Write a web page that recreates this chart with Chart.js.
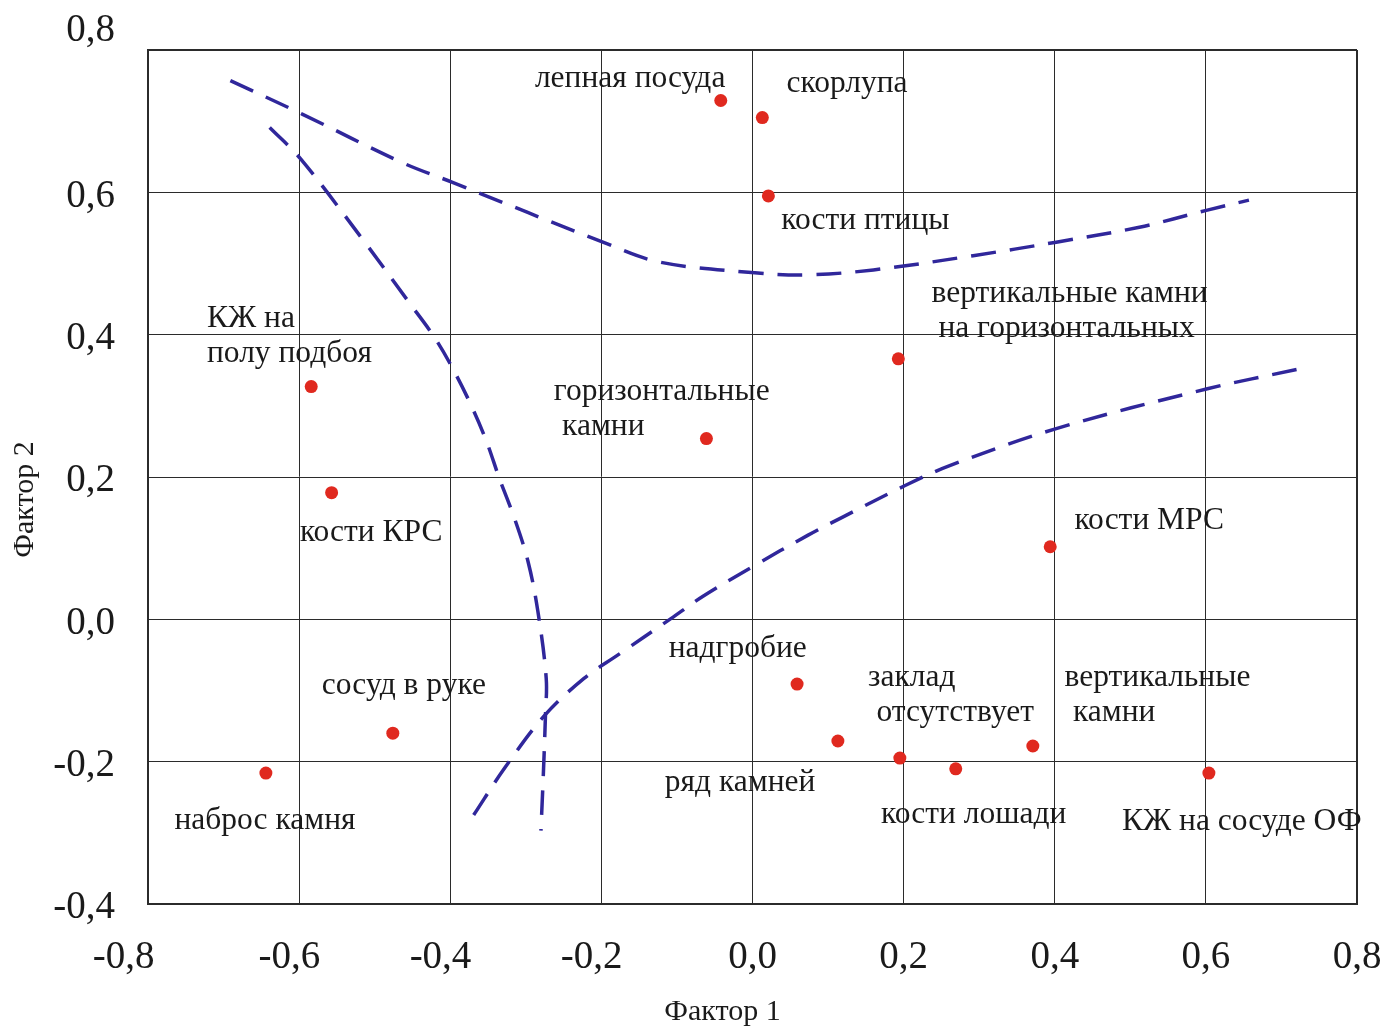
<!DOCTYPE html>
<html lang="ru">
<head>
  <meta charset="UTF-8">
  <meta name="viewport" content="width=device-width, initial-scale=1.0">
  <title>Фактор 1 / Фактор 2</title>
  <script src="https://cdn.jsdelivr.net/npm/chart.js"></script>
  <style>
    body { margin: 0; background: #ffffff; }
  </style>
</head>
<body>
  <canvas id="factorChartCanvas" width="1392" height="1032"></canvas>
  <script>
    const xTickLabels = ['-0,8', '-0,6', '-0,4', '-0,2', '0,0', '0,2', '0,4', '0,6', '0,8'];
    const yTickLabels = ['-0,4', '-0,2', '0,0', '0,2', '0,4', '0,6', '0,8'];

    // точки: Фактор 1 / Фактор 2
    const factor1 = [-0.042, 0.013, 0.021, 0.193, -0.061, -0.584, -0.557, 0.394, 0.059, -0.476, -0.644, 0.113, 0.195, 0.269, 0.371, 0.604];
    const factor2 = [0.729, 0.705, 0.595, 0.366, 0.254, 0.327, 0.178, 0.102, -0.091, -0.160, -0.216, -0.171, -0.195, -0.210, -0.178, -0.216];

    // пунктирные границы групп
    const curve1X = [-0.691, -0.596, -0.464, -0.397, -0.198, -0.123, 0.003, 0.073, 0.160, 0.292, 0.402, 0.512, 0.602, 0.657];
    const curve1Y = [0.757, 0.710, 0.642, 0.614, 0.530, 0.502, 0.487, 0.484, 0.491, 0.511, 0.530, 0.551, 0.575, 0.589];
    const curve2X = [-0.639, -0.598, -0.516, -0.455, -0.422, -0.398, -0.372, -0.352, -0.335, -0.315, -0.297, -0.284, -0.273, -0.274, -0.277, -0.280];
    const curve2Y = [0.691, 0.647, 0.534, 0.446, 0.398, 0.355, 0.300, 0.250, 0.198, 0.142, 0.081, 0.011, -0.083, -0.135, -0.223, -0.297];
    const curve3X = [-0.369, -0.328, -0.276, -0.223, -0.178, -0.108, -0.066, 0.000, 0.073, 0.120, 0.202, 0.261, 0.402, 0.602, 0.720];
    const curve3Y = [-0.275, -0.209, -0.136, -0.083, -0.050, 0.001, 0.032, 0.074, 0.118, 0.144, 0.188, 0.216, 0.268, 0.324, 0.351];

    const pointLabels = [
      ['лепная посуда', -0.288, 0.759],
      ['скорлупа', 0.045, 0.753],
      ['кости птицы', 0.038, 0.560],
      ['вертикальные камни', 0.237, 0.458],
      ['на горизонтальных', 0.246, 0.409],
      ['КЖ на', -0.722, 0.423],
      ['полу подбоя', -0.722, 0.373],
      ['горизонтальные', -0.263, 0.320],
      ['камни', -0.252, 0.271],
      ['кости КРС', -0.599, 0.122],
      ['кости МРС', 0.426, 0.139],
      ['надгробие', -0.111, -0.041],
      ['сосуд в руке', -0.570, -0.093],
      ['заклад', 0.153, -0.082],
      ['отсутствует', 0.164, -0.131],
      ['вертикальные', 0.413, -0.082],
      ['камни', 0.424, -0.131],
      ['ряд камней', -0.116, -0.229],
      ['наброс камня', -0.765, -0.283],
      ['кости лошади', 0.170, -0.274],
      ['КЖ на сосуде ОФ', 0.489, -0.284]
    ];

    const serif = '"Liberation Serif", "Times New Roman", serif';
    const lineBlue = '#30279b';

    function toPoints(xs, ys) {
      return xs.map((x, i) => ({ x: x, y: ys[i] }));
    }

    function curveDataset(xs, ys) {
      return {
        type: 'line',
        data: toPoints(xs, ys),
        borderColor: lineBlue,
        borderWidth: 3.5,
        borderDash: [25, 14],
        pointRadius: 0,
        fill: false,
        tension: 0.35
      };
    }

    const labelPlugin = {
      id: 'pointLabels',
      afterDatasetsDraw(chart) {
        const ctx = chart.ctx;
        const xs = chart.scales.x;
        const ys = chart.scales.y;
        ctx.save();
        ctx.font = '31.5px ' + serif;
        ctx.fillStyle = '#1a1a1a';
        ctx.textAlign = 'left';
        ctx.textBaseline = 'middle';
        pointLabels.forEach(([text, x, y]) => {
          ctx.fillText(text, xs.getPixelForValue(x), ys.getPixelForValue(y));
        });
        ctx.restore();
      }
    };

    function drawChart() {
      const canvas = document.getElementById('factorChartCanvas');
      new Chart(canvas, {
        type: 'scatter',
        data: {
          datasets: [
            {
              data: toPoints(factor1, factor2),
              backgroundColor: '#e0291f',
              borderWidth: 0,
              pointRadius: 6.5
            },
            curveDataset(curve1X, curve1Y),
            curveDataset(curve2X, curve2Y),
            curveDataset(curve3X, curve3Y)
          ]
        },
        options: {
          responsive: false,
          animation: false,
          events: [],
          layout: { padding: { top: 50, right: 35, left: 0, bottom: 0 } },
          plugins: {
            legend: { display: false },
            tooltip: { enabled: false }
          },
          scales: {
            x: {
              type: 'linear',
              min: -0.8,
              max: 0.8,
              afterFit: (scale) => { scale.height = 128; },
              ticks: {
                stepSize: 0.2,
                maxRotation: 0,
                autoSkip: false,
                padding: 0,
                color: '#1a1a1a',
                font: { family: serif, size: 39 },
                callback: (value, index) => {
                  const shift = index === 0 ? 5 : (value < 0 ? 2 : 0);
                  return xTickLabels[index] + '\u00a0'.repeat(shift);
                }
              },
              grid: {
                drawTicks: true,
                tickLength: 30,
                tickColor: 'rgba(0,0,0,0)',
                color: '#2b2b2b',
                lineWidth: (c) => (c.tick && Math.abs(c.tick.value) > 0.79 ? 2 : 1)
              },
              border: { display: true, color: '#2b2b2b', width: 2 },
              title: {
                display: true,
                text: 'Фактор 1' + '\u00a0'.repeat(8),
                color: '#1a1a1a',
                font: { family: serif, size: 30 },
                padding: { top: 0, bottom: 2 }
              }
            },
            y: {
              type: 'linear',
              min: -0.4,
              max: 0.8,
              afterFit: (scale) => { scale.width = 148; },
              ticks: {
                stepSize: 0.2,
                padding: 0,
                labelOffset: 4,
                color: '#1a1a1a',
                font: { family: serif, size: 39 },
                callback: (value, index) => (index === yTickLabels.length - 1 ? [yTickLabels[index], ''] : yTickLabels[index])
              },
              grid: {
                drawTicks: true,
                tickLength: 33,
                tickColor: 'rgba(0,0,0,0)',
                color: '#2b2b2b',
                lineWidth: (c) => (c.tick && (c.tick.value > 0.79 || c.tick.value < -0.39) ? 2 : 1)
              },
              border: { display: true, color: '#2b2b2b', width: 2 },
              title: {
                display: true,
                text: 'Фактор 2' + '\u00a0'.repeat(6),
                color: '#1a1a1a',
                font: { family: serif, size: 30 },
                padding: { top: 7, bottom: 0 }
              }
            }
          }
        },
        plugins: [labelPlugin]
      });
    }

    document.addEventListener('DOMContentLoaded', function () {
      drawChart();
    });
  </script>
</body>
</html>
